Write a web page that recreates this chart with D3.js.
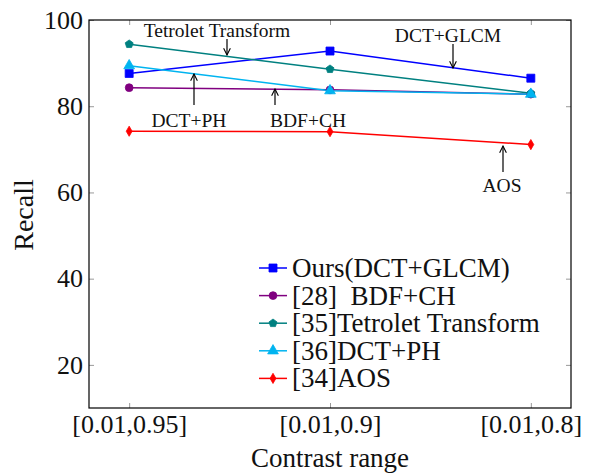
<!DOCTYPE html>
<html><head><meta charset="utf-8">
<script src="https://cdn.jsdelivr.net/npm/d3@7"></script>
<style>body{margin:0;background:#fff}svg{display:block}text{font-family:"Liberation Serif","Times New Roman",serif;fill:#111}</style>
</head><body>
<script>
const categories = ["[0.01,0.95]", "[0.01,0.9]", "[0.01,0.8]"];
const ours = [87.6, 92.8, 86.5];
const bdfch = [84.3, 83.8, 82.8];
const tetrolet = [94.4, 88.6, 83.0];
const dctph = [89.4, 83.6, 82.8];
const aos = [74.2, 74.1, 71.1];
const yTicks = [20, 40, 60, 80, 100];
const seriesNames = ["Ours(DCT+GLCM)", "[28]  BDF+CH", "[35]Tetrolet Transform", "[36]DCT+PH", "[34]AOS"];

const W = 593, H = 476;
const m = {l: 89, r: 22, t: 20, b: 68};
const svg = d3.select("body").append("svg").attr("width", W).attr("height", H);
const x = d3.scaleLinear().domain([-0.2, 2.2]).range([m.l, W - m.r]);
const y = d3.scaleLinear().domain([10, 100]).range([H - m.b, m.t]);

const series = [
  {name: seriesNames[0], values: ours, color: "#0000ff", sym: d3.symbolSquare, size: 64},
  {name: seriesNames[1], values: bdfch, color: "#800080", sym: d3.symbolCircle, size: 48},
  {name: seriesNames[2], values: tetrolet, color: "#008080", sym: d3.symbolCircle, size: 40, pent: true},
  {name: seriesNames[3], values: dctph, color: "#00b4f0", sym: d3.symbolTriangle, size: 50},
  {name: seriesNames[4], values: aos, color: "#ff0000", sym: d3.symbolDiamond, size: 30}
];

function pentagon(r) {
  const pts = [];
  for (let i = 0; i < 5; i++) { const a = -Math.PI/2 + i*2*Math.PI/5; pts.push([r*Math.cos(a), r*Math.sin(a)]); }
  return "M" + pts.map(p => p.join(",")).join("L") + "Z";
}
function markerPath(s) { return s.pent ? pentagon(4.2) : d3.symbol(s.sym, s.size)(); }

// axes with inner ticks
const tickLen = 5;
const gx = svg.append("g").attr("transform", `translate(0,${H - m.b})`)
  .call(d3.axisBottom(x).tickValues([0,1,2]).tickFormat(i => categories[i]).tickSizeInner(-tickLen).tickSizeOuter(0).tickPadding(7));
const gxt = svg.append("g").attr("transform", `translate(0,${m.t})`)
  .call(d3.axisTop(x).tickValues([0,1,2]).tickFormat("").tickSizeInner(-tickLen).tickSizeOuter(0));
const gy = svg.append("g").attr("transform", `translate(${m.l},0)`)
  .call(d3.axisLeft(y).tickValues(yTicks).tickSizeInner(-tickLen).tickSizeOuter(0).tickPadding(6));
const gyr = svg.append("g").attr("transform", `translate(${W - m.r},0)`)
  .call(d3.axisRight(y).tickValues(yTicks).tickFormat("").tickSizeInner(-tickLen).tickSizeOuter(0));
[gx, gxt, gy, gyr].forEach(g => {
  g.select(".domain").remove();
  g.selectAll(".tick line").attr("stroke", "#999").attr("stroke-width", 1);
  g.selectAll("text").style("font-family", '"Liberation Serif", serif').attr("fill", "#111");
});
gx.selectAll("text").style("font-size", "26px");
gy.selectAll("text").style("font-size", "26px");

svg.append("rect").attr("x", m.l).attr("y", m.t).attr("width", W - m.r - m.l).attr("height", H - m.b - m.t)
  .attr("fill", "none").attr("stroke", "#000").attr("stroke-width", 1.2);

// axis labels
svg.append("text").attr("x", (m.l + W - m.r)/2).attr("y", 467).attr("text-anchor", "middle").style("font-size", "27px").text("Contrast range");
svg.append("text").attr("transform", `translate(33,215) rotate(-90)`).attr("text-anchor", "middle").style("font-size", "28px").text("Recall");

// lines
const line = d3.line().x((d, i) => x(i)).y(d => y(d));
series.forEach(s => {
  svg.append("path").datum(s.values).attr("d", line).attr("fill", "none").attr("stroke", s.color).attr("stroke-width", 1.5);
});
series.forEach(s => {
  svg.selectAll(null).data(s.values).enter().append("path")
    .attr("d", markerPath(s)).attr("transform", (d, i) => `translate(${x(i)},${y(d)})`)
    .attr("fill", s.color).attr("stroke", s.color).attr("stroke-width", 0.8);
});

// annotations
svg.append("defs").append("marker").attr("id", "ah").attr("viewBox", "0 0 10 10").attr("refX", 9).attr("refY", 5)
  .attr("markerWidth", 7).attr("markerHeight", 7).attr("orient", "auto-start-reverse")
  .append("path").attr("d", "M1,1 L9,5 L1,9").attr("fill", "none").attr("stroke", "#000").attr("stroke-width", 1.3);
const notes = [
  {t: "Tetrolet Transform", tx: 217, ty: 37, x1: 227, y1: 39, x2: 227, y2: 55},
  {t: "DCT+GLCM", tx: 448, ty: 42, x1: 453, y1: 44, x2: 453, y2: 68},
  {t: "DCT+PH", tx: 189, ty: 127, x1: 194, y1: 105, x2: 194, y2: 74},
  {t: "BDF+CH", tx: 308, ty: 127, x1: 275, y1: 105, x2: 275, y2: 89},
  {t: "AOS", tx: 502, ty: 192, x1: 503, y1: 172, x2: 503, y2: 146}
];
notes.forEach(n => {
  svg.append("text").attr("x", n.tx).attr("y", n.ty).attr("text-anchor", "middle").style("font-size", "19.5px").text(n.t);
  svg.append("line").attr("x1", n.x1).attr("y1", n.y1).attr("x2", n.x2).attr("y2", n.y2)
    .attr("stroke", "#000").attr("stroke-width", 1.2).attr("marker-end", "url(#ah)");
});

// legend
const lg = svg.append("g");
series.forEach((s, i) => {
  const yy = 268 + i * 27.6;
  lg.append("line").attr("x1", 259).attr("x2", 287).attr("y1", yy).attr("y2", yy).attr("stroke", s.color).attr("stroke-width", 1.5);
  lg.append("path").attr("d", markerPath(s)).attr("transform", `translate(273,${yy})`).attr("fill", s.color).attr("stroke", s.color).attr("stroke-width", 0.8);
  lg.append("text").attr("x", 292).attr("y", yy + 9).style("font-size", "27px").attr("xml:space", "preserve").style("white-space", "pre").text(s.name);
});
</script>
</body></html>
